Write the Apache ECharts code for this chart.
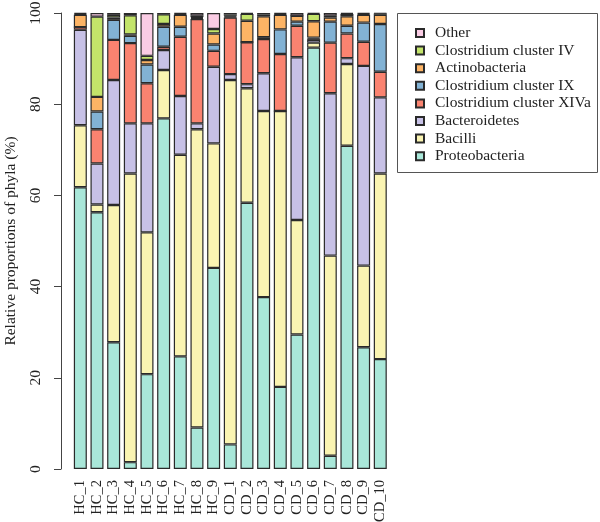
<!DOCTYPE html>
<html><head><meta charset="utf-8">
<script src="https://cdn.jsdelivr.net/npm/echarts@6/dist/echarts.min.js"></script>
<style>html,body{margin:0;padding:0;background:#fff}#c{width:600px;height:522px}</style>
</head><body><div id="c"></div>
<script>
const categories = ["HC_1","HC_2","HC_3","HC_4","HC_5","HC_6","HC_7","HC_8","HC_9","CD_1","CD_2","CD_3","CD_4","CD_5","CD_6","CD_7","CD_8","CD_9","CD_10"];
const proteobacteria = [61.8,56.3,27.8,1.5,20.8,76.9,24.7,9.1,44.1,5.4,58.4,37.7,18.0,29.5,92.4,2.9,70.9,26.7,24.1];
const bacilli        = [13.6,1.7,30.1,63.3,31.1,10.6,44.2,65.4,27.3,79.9,25.1,40.8,60.5,25.1,1.1,43.9,17.9,17.9,40.7];
const bacteroidetes  = [20.9,9.0,27.4,11.0,23.9,4.4,12.9,1.3,16.8,1.3,0.9,8.3,0,35.7,0.6,35.6,1.3,43.8,16.7];
const clusterXIVa    = [0.6,7.5,8.8,17.6,8.8,0.7,13.0,22.9,3.5,12.4,9.2,7.5,12.5,6.9,0.3,11.1,5.4,5.3,5.6];
const clusterIX      = [0,3.9,4.4,1.6,4.1,4.4,2.2,0.2,1.4,0.2,0,0.4,5.4,0.9,0.2,4.6,1.7,4.2,10.5];
const actinobacteria = [2.7,3.2,0.5,0.3,1.0,0.6,2.6,0.2,2.4,0.2,4.7,4.6,3.2,1.3,3.6,0.9,2.1,1.7,2.0];
const clusterIV      = [0.2,17.6,0.6,4.2,0.9,2.1,0.2,0.3,1.0,0.3,1.5,0.4,0.2,0,1.6,0.4,0.5,0.2,0.3];
const other          = [0.2,0.8,0.4,0.5,9.4,0.3,0.2,0.6,3.5,0.3,0.2,0.3,0.2,0.6,0.2,0.6,0.2,0.2,0.1];
const yTicks = [0,20,40,60,80,100];

const seriesDefs = [
  ["Proteobacteria", proteobacteria, "#A9E7D9"],
  ["Bacilli", bacilli, "#FAF4B2"],
  ["Bacteroidetes", bacteroidetes, "#C7C1E6"],
  ["Clostridium cluster XIVa", clusterXIVa, "#FA8370"],
  ["Clostridium cluster IX", clusterIX, "#82B2D4"],
  ["Actinobacteria", actinobacteria, "#FDB465"],
  ["Clostridium cluster IV", clusterIV, "#C3E46A"],
  ["Other", other, "#FACCE4"]
];
const FONT = "Liberation Serif";
const FS = 15.5;
const chart = echarts.init(document.getElementById('c'), null, {renderer:'canvas'});
chart.setOption({
  animation:false,
  backgroundColor:'#fff',
  grid:{left:72, right:211.4, top:13, bottom:53, containLabel:false, outerBoundsMode:'none'},
  xAxis:{type:'category', data:categories,
    axisLine:{show:false}, axisTick:{show:false},
    axisLabel:{rotate:90, margin:11, fontFamily:FONT, fontSize:14.5, color:'#222', interval:0}},
  yAxis:{type:'value', min:0, max:100, interval:20, offset:11,
    name:'Relative proportions of phyla (%)', nameLocation:'middle', nameGap:42,
    nameTextStyle:{fontFamily:FONT, fontSize:FS, color:'#222'},
    axisLine:{show:true, lineStyle:{color:'#444', width:1}},
    axisTick:{show:true, length:7, lineStyle:{color:'#444'}},
    splitLine:{show:false},
    axisLabel:{rotate:90, margin:17, fontFamily:FONT, fontSize:FS, color:'#222',
      formatter:v=>yTicks.includes(v)?String(v):''}},
  legend:{orient:'vertical', left:410, top:20, itemWidth:8, itemHeight:8, itemGap:1.6,
    icon:'rect', selectedMode:false,
    data:["Other","Clostridium cluster IV","Actinobacteria","Clostridium cluster IX","Clostridium cluster XIVa","Bacteroidetes","Bacilli","Proteobacteria"],
    textStyle:{fontFamily:FONT, fontSize:FS, color:'#222', lineHeight:14.5, padding:[0,0,0,6]}},
  graphic:[{type:'rect', shape:{x:397.5, y:13.5, width:200, height:159}, style:{fill:'none', stroke:'#555', lineWidth:1}}],
  series: seriesDefs.map(([n,d,c])=>({name:n, type:'bar', stack:'all', data:d, barWidth:13,
    itemStyle:{color:c, borderColor:'#2a2a2a', borderWidth:1.2}}))
});
</script></body></html>
